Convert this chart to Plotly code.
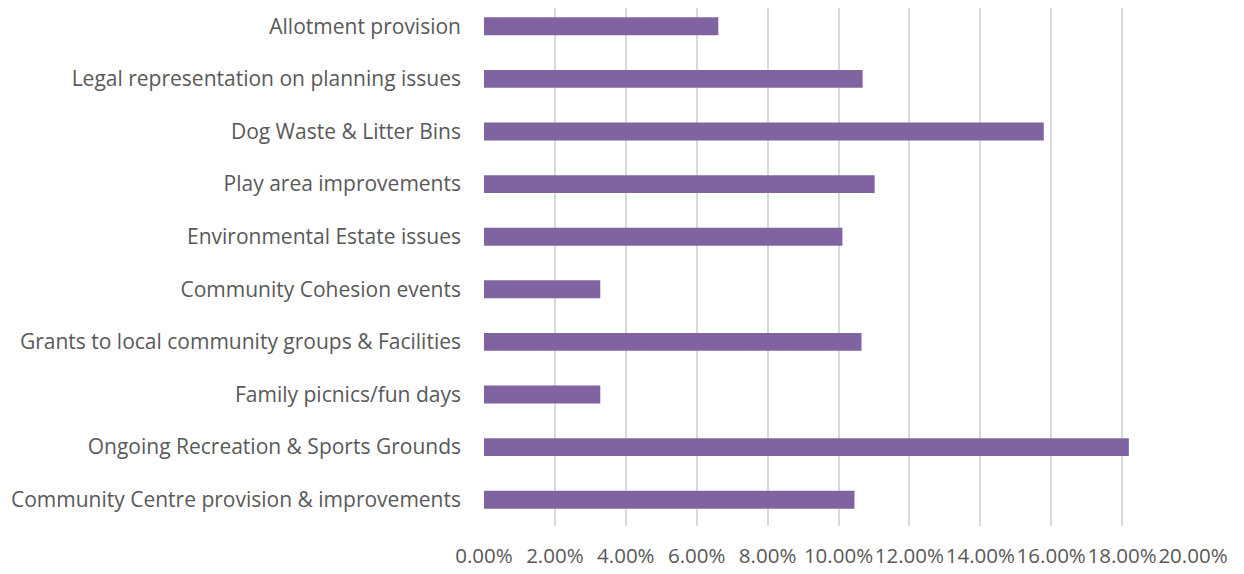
import plotly.graph_objects as go

categories = [
    "Allotment provision",
    "Legal representation on planning issues",
    "Dog Waste & Litter Bins",
    "Play area improvements",
    "Environmental Estate issues",
    "Community Cohesion events",
    "Grants to local community groups & Facilities",
    "Family picnics/fun days",
    "Ongoing Recreation & Sports Grounds",
    "Community Centre provision & improvements",
]
values = [0.0661, 0.1068, 0.1579, 0.1102, 0.1011, 0.0328, 0.1065, 0.0328, 0.1819, 0.1045]
tick_vals = [0, 0.02, 0.04, 0.06, 0.08, 0.10, 0.12, 0.14, 0.16, 0.18, 0.20]

fig = go.Figure(go.Bar(
    x=values, y=categories, orientation="h",
    marker=dict(color="#8064A2", line=dict(width=0)),
    width=0.34,
))

# page has an 8px body margin, so margins are shifted to compensate
fig.update_layout(
    width=1244, height=574,
    margin=dict(l=476, r=59, t=0, b=56, autoexpand=False),
    plot_bgcolor="white", paper_bgcolor="white",
    font=dict(family="Open Sans", size=21, color="#595959"),
    showlegend=False,
)
fig.update_xaxes(
    range=[0, 0.2], tickvals=tick_vals, tickformat=".2%", tickangle=0,
    showgrid=True, gridcolor="#D9D9D9", gridwidth=1.5,
    zeroline=False, showline=False, ticks="", ticklabelstandoff=15,
    tickfont=dict(size=20.5),
)
fig.update_yaxes(
    range=[9.5, -0.348], showgrid=False, showline=False, ticks="",
    ticklabelstandoff=22,
)

fig.write_html("out.html")
